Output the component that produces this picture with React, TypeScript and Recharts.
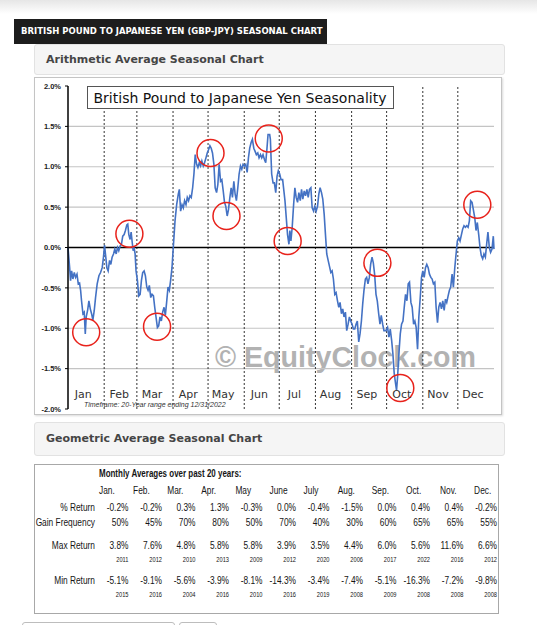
import React from 'react';
import { LineChart, Line, XAxis, YAxis, ReferenceLine, ReferenceDot } from 'recharts';

// Average seasonal path of GBP/JPY, day of year vs cumulative % change
const dayOfYear = [
  0.0, 1.4, 2.2, 3.1, 4.2, 5.4, 6.5, 7.7, 8.8, 9.9, 10.8, 11.6, 12.8, 13.9, 14.8, 15.6, 16.8, 17.9, 19.1, 20.2,
  21.3, 22.5, 23.6, 25.0, 26.5, 27.9, 29.3, 30.4, 31.3, 32.1, 33.3, 34.4, 35.6, 36.7, 37.8, 39.0, 40.1, 41.3, 42.4, 43.5,
  44.7, 45.8, 46.9, 48.1, 49.2, 50.4, 51.2, 52.1, 53.2, 54.1, 54.9, 55.8, 56.6, 57.5, 58.3, 59.5, 60.6, 61.8, 62.9, 64.0,
  65.2, 66.3, 67.5, 68.6, 69.7, 70.9, 72.0, 73.2, 74.3, 75.4, 76.6, 77.7, 78.8, 80.0, 81.1, 82.3, 83.4, 84.5, 85.7, 86.8,
  87.9, 89.1, 90.2, 91.7, 93.1, 94.5, 95.4, 96.5, 97.7, 98.8, 99.9, 101.1, 102.2, 103.3, 104.5, 105.6, 106.8, 107.9, 109.0, 110.2,
  111.3, 112.5, 113.6, 114.7, 115.9, 117.0, 118.2, 119.3, 120.4, 121.6, 122.7, 123.8, 125.0, 126.1, 127.3, 128.4, 129.5, 130.7, 131.8, 133.0,
  134.1, 135.2, 136.4, 137.5, 138.7, 139.8, 140.9, 142.1, 143.2, 144.3, 145.5, 146.6, 147.8, 148.9, 150.0, 151.2, 152.3, 153.5, 154.6, 155.7,
  156.9, 158.0, 159.2, 160.3, 161.4, 162.6, 163.7, 164.9, 166.0, 167.1, 168.3, 169.4, 170.5, 171.4, 172.8, 173.4, 174.5, 175.7, 176.8, 178.0,
  179.1, 180.2, 181.4, 182.5, 183.9, 185.9, 187.0, 188.1, 189.3, 190.1, 191.0, 192.1, 193.3, 194.4, 195.5, 196.7, 197.8, 199.0, 200.1, 201.2,
  202.4, 203.5, 204.7, 205.8, 206.9, 208.1, 209.2, 210.4, 211.5, 212.6, 213.8, 214.9, 216.0, 217.2, 218.3, 219.5, 220.6, 221.7, 222.9, 224.0,
  225.2, 226.3, 227.4, 228.6, 229.7, 230.9, 232.0, 233.1, 234.3, 235.4, 236.5, 237.7, 238.8, 240.0, 241.1, 242.2, 243.4, 244.5, 245.7, 246.8,
  247.9, 249.1, 250.2, 251.4, 252.5, 253.6, 254.8, 255.9, 257.0, 258.2, 259.3, 260.5, 261.6, 262.7, 263.9, 265.0, 266.2, 267.3, 268.4, 269.6,
  270.7, 272.4, 273.8, 275.0, 276.1, 277.3, 278.4, 279.5, 280.7, 281.5, 282.4, 283.5, 284.7, 285.8, 287.0, 288.1, 289.2, 290.4, 291.5, 292.6,
  293.8, 294.9, 296.1, 297.2, 298.3, 299.5, 300.6, 301.8, 302.9, 304.0, 305.2, 306.3, 307.4, 308.6, 309.7, 310.9, 312.0, 313.1, 314.3, 315.4,
  316.6, 317.7, 318.8, 320.0, 321.1, 322.3, 323.4, 324.5, 325.7, 326.8, 327.9, 329.1, 330.2, 331.4, 332.5, 333.6, 334.8, 335.9, 337.1, 338.2,
  339.3, 340.5, 341.6, 342.8, 343.9, 345.0, 346.2, 347.3, 348.5, 349.6, 350.7, 351.9, 353.0, 354.1, 355.3, 356.4, 357.6, 358.7, 359.8, 361.0,
  362.1, 363.3, 364.4, 365.0,
];

const avgReturn = [
  0.00, -0.25, -0.41, -0.29, -0.39, -0.31, -0.37, -0.33, -0.45, -0.44, -0.53, -0.66, -0.82, -0.80, -1.07, -0.86, -0.78, -0.66, -0.76, -0.82,
  -0.90, -0.78, -0.62, -0.45, -0.35, -0.31, -0.25, -0.12, 0.03, -0.08, -0.25, -0.29, -0.16, -0.21, -0.12, -0.08, -0.02, -0.08, 0.00, -0.04,
  0.02, 0.04, 0.14, 0.16, 0.21, 0.28, 0.29, 0.16, 0.10, 0.19, 0.08, -0.04, 0.00, -0.08, -0.29, -0.41, -0.60, -0.58, -0.41, -0.31,
  -0.29, -0.35, -0.49, -0.53, -0.47, -0.62, -0.58, -0.60, -0.74, -0.86, -0.99, -0.97, -0.86, -0.91, -0.80, -0.74, -0.84, -0.68, -0.49, -0.53,
  -0.41, -0.25, 0.00, 0.33, 0.53, 0.66, 0.72, 0.45, 0.53, 0.49, 0.58, 0.53, 0.62, 0.58, 0.64, 0.62, 0.74, 0.91, 1.15, 1.03,
  0.99, 1.05, 1.01, 1.07, 1.01, 1.05, 1.11, 1.17, 1.21, 1.26, 1.23, 1.17, 1.03, 0.74, 0.68, 0.78, 1.03, 0.82, 0.84, 0.70,
  0.56, 0.51, 0.39, 0.47, 0.62, 0.74, 0.62, 0.82, 0.66, 0.58, 0.74, 0.91, 1.01, 0.97, 1.03, 1.01, 1.03, 0.93, 1.11, 1.23,
  1.30, 1.34, 1.23, 1.19, 1.15, 1.17, 1.11, 1.15, 1.11, 1.15, 1.09, 1.05, 1.23, 1.40, 1.40, 1.34, 0.91, 0.80, 0.80, 0.68,
  0.88, 0.95, 0.91, 0.84, 0.84, 0.58, 0.37, 0.16, 0.04, 0.21, 0.08, 0.25, 0.53, 0.74, 0.62, 0.56, 0.68, 0.58, 0.72, 0.60,
  0.70, 0.64, 0.72, 0.62, 0.72, 0.74, 0.49, 0.45, 0.51, 0.45, 0.51, 0.66, 0.74, 0.68, 0.60, 0.41, 0.16, -0.08, -0.16, -0.23,
  -0.31, -0.29, -0.39, -0.58, -0.56, -0.66, -0.74, -0.68, -0.82, -0.76, -0.86, -0.80, -1.03, -0.95, -0.86, -0.91, -0.95, -1.01, -1.01, -0.95,
  -0.91, -1.17, -1.07, -0.91, -0.70, -0.53, -0.39, -0.37, -0.45, -0.37, -0.21, -0.12, -0.19, -0.33, -0.58, -0.66, -0.82, -0.95, -0.84, -0.95,
  -1.03, -1.03, -0.99, -1.11, -1.01, -1.15, -1.32, -1.56, -1.69, -1.77, -1.60, -1.32, -1.07, -0.95, -0.91, -0.74, -0.58, -0.66, -0.45, -0.43,
  -0.68, -0.74, -0.95, -0.91, -0.99, -1.26, -0.86, -0.62, -0.37, -0.29, -0.37, -0.25, -0.21, -0.25, -0.33, -0.37, -0.39, -0.45, -0.43, -0.74,
  -0.93, -0.74, -0.68, -0.76, -0.66, -0.78, -0.64, -0.68, -0.60, -0.53, -0.49, -0.33, -0.49, -0.25, -0.08, 0.08, 0.12, 0.08, 0.16, 0.23,
  0.27, 0.25, 0.27, 0.25, 0.33, 0.58, 0.56, 0.47, 0.37, 0.21, 0.31, 0.16, 0.00, -0.10, -0.14, -0.08, -0.12, 0.04, 0.19, 0.00,
  -0.06, -0.02, 0.14, -0.02,
];

const monthNames = ['Jan', 'Feb', 'Mar', 'Apr', 'May', 'Jun', 'Jul', 'Aug', 'Sep', 'Oct', 'Nov', 'Dec'];
const monthStartDay = [0, 31, 59, 90, 120, 151, 181, 212, 243, 273, 304, 334];
const yTicks = [-2, -1.5, -1, -0.5, 0, 0.5, 1, 1.5, 2];
const gridValues = [-1.5, -1, -0.5, 0.5, 1, 1.5];

// Turning points ringed on the chart
const highlightDay = [15.6, 52.6, 76.3, 122.1, 135.8, 172.0, 188.2, 265.1, 284.7, 350.7];
const highlightValue = [-1.05, 0.17, -0.98, 1.17, 0.39, 1.35, 0.08, -0.19, -1.74, 0.53];

// Monthly statistics table
const tableMonths = ['Jan.', 'Feb.', 'Mar.', 'Apr.', 'May', 'June', 'July', 'Aug.', 'Sep.', 'Oct.', 'Nov.', 'Dec.'];
const pctReturn = [-0.2, -0.2, 0.3, 1.3, -0.3, 0.0, -0.4, -1.5, 0.0, 0.4, 0.4, -0.2];
const gainFrequency = [50, 45, 70, 80, 50, 70, 40, 30, 60, 65, 65, 55];
const maxReturn = [3.8, 7.6, 4.8, 5.8, 5.8, 3.9, 3.5, 4.4, 6.0, 5.6, 11.6, 6.6];
const maxYear = [2011, 2012, 2010, 2013, 2009, 2012, 2020, 2006, 2017, 2022, 2016, 2012];
const minReturn = [-5.1, -9.1, -5.6, -3.9, -8.1, -14.3, -3.4, -7.4, -5.1, -16.3, -7.2, -9.8];
const minYear = [2015, 2016, 2004, 2016, 2010, 2016, 2019, 2008, 2009, 2008, 2008, 2008];

const seriesData = dayOfYear.map((d, i) => ({ day: d, ret: avgReturn[i] }));
const monthLabelDay = monthStartDay.map((d) => d + 13);

const SANS = 'DejaVu Sans, Verdana, sans-serif';
const ARIAL = 'Liberation Sans, Arial, sans-serif';

const MonthTick = (props: any) => {
  const { x, y, payload } = props;
  const idx = monthLabelDay.indexOf(payload.value);
  return (
    <text x={x} y={y - 11.5} textAnchor="middle" fontSize={11} fontFamily={SANS} fill="#333">
      {monthNames[idx]}
    </text>
  );
};

const pct = (v: number) => `${v.toFixed(1)}%`;

const Narrow = ({ x, y, anchor = 'end', size = 11, bold = false, children }: any) => (
  <text
    transform={`translate(${x} ${y}) scale(0.76 1)`}
    textAnchor={anchor}
    fontSize={size}
    fontWeight={bold ? 700 : 400}
    fontFamily={ARIAL}
    fill="#151515"
  >
    {children}
  </text>
);

export default function App() {
  const colRight = (i: number) => 128.5 + i * 33.5;
  const colLeft = (i: number) => 99 + i * 34.1;
  const rows: { label: string; y: number; values: string[] }[] = [
    { label: '% Return', y: 510.7, values: pctReturn.map(pct) },
    { label: 'Gain Frequency', y: 526, values: gainFrequency.map((v) => `${v}%`) },
    { label: 'Max Return', y: 549.3, values: maxReturn.map(pct) },
    { label: 'Min Return', y: 584, values: minReturn.map(pct) },
  ];

  return (
    <div style={{ position: 'absolute', left: 0, top: 0, width: 537, height: 625, background: '#fff', overflow: 'hidden' }}>
      <div style={{ position: 'absolute', left: 0, top: 0, width: 537, height: 14, background: 'linear-gradient(#e6e6e6, #ffffff)' }} />

      <div style={{ position: 'absolute', left: 14, top: 19, width: 313, height: 25, background: '#1d1d1d', color: '#fff', fontFamily: SANS, fontWeight: 700, fontSize: 8.5, lineHeight: '25px', paddingLeft: 7, boxSizing: 'border-box', whiteSpace: 'nowrap' }}>
        BRITISH POUND TO JAPANESE YEN (GBP-JPY) SEASONAL CHART
      </div>

      <div style={{ position: 'absolute', left: 34, top: 44, width: 471, height: 31, background: '#f5f5f5', border: '1px solid #e2e2e2', borderRadius: 3, boxSizing: 'border-box', fontFamily: SANS, fontWeight: 700, fontSize: 11, color: '#454545', lineHeight: '29px', paddingLeft: 11 }}>
        Arithmetic Average Seasonal Chart
      </div>

      <div style={{ position: 'absolute', left: 34, top: 77, width: 468, height: 338, border: '1px solid #c4c4c4', boxSizing: 'border-box', background: '#fff', boxShadow: '1px 1px 2px rgba(0,0,0,0.15)' }} />

      <svg style={{ position: 'absolute', left: 0, top: 0 }} width={537} height={625}>
        <text x={215} y={367} fontFamily={ARIAL} fontWeight={700} fontSize={28.6} fill="#b2b2b2">
          © EquityClock.com
        </text>
      </svg>

      <div style={{ position: 'absolute', left: 34, top: 77 }}>
        <LineChart width={468} height={338} data={seriesData} margin={{ top: 9, right: 8, bottom: 5, left: 0 }}>
          <XAxis
            type="number"
            dataKey="day"
            domain={[0, 365]}
            ticks={monthLabelDay}
            interval={0}
            height={1}
            tickSize={0}
            tickMargin={0}
            axisLine={false}
            tickLine={false}
            tick={<MonthTick />}
          />
          <YAxis
            type="number"
            domain={[-2, 2]}
            ticks={yTicks}
            interval={0}
            width={34}
            tickSize={3}
            tickMargin={4}
            tickFormatter={pct}
            axisLine={{ stroke: '#000', strokeWidth: 1.5 }}
            tickLine={{ stroke: '#000' }}
            tick={{ fontSize: 7.5, fontWeight: 700, fill: '#222', fontFamily: ARIAL }}
          />
          {gridValues.map((v) => (
            <ReferenceLine key={`g${v}`} y={v} stroke="#c4c4c4" strokeWidth={1.2} />
          ))}
          {monthStartDay.slice(1).map((d) => (
            <ReferenceLine key={`m${d}`} x={d} stroke="#333" strokeWidth={1} strokeDasharray="2 2" />
          ))}
          <ReferenceLine y={0} stroke="#000" strokeWidth={1.6} />
          <Line type="linear" dataKey="ret" stroke="#4472c4" strokeWidth={1.6} dot={false} isAnimationActive={false} />
          {highlightDay.map((d, i) => (
            <ReferenceDot key={`h${i}`} x={d} y={highlightValue[i]} r={13.5} fill="none" stroke="#e8221b" strokeWidth={1.5} />
          ))}
        </LineChart>
      </div>

      <svg style={{ position: 'absolute', left: 0, top: 0, pointerEvents: 'none' }} width={537} height={625}>
        <rect x={87.5} y={86.5} width={306} height={22} fill="#fff" stroke="#555" strokeWidth={1} />
        <text x={93.5} y={102.5} fontFamily={SANS} fontSize={14} fill="#111">
          British Pound to Japanese Yen Seasonality
        </text>
        <text x={84} y={406.8} fontFamily={ARIAL} fontStyle="italic" fontSize={7} fill="#333">
          Timeframe: 20-Year range ending 12/31/2022
        </text>
      </svg>

      <div style={{ position: 'absolute', left: 34, top: 422, width: 471, height: 34, background: '#f5f5f5', border: '1px solid #e2e2e2', borderRadius: 3, boxSizing: 'border-box', fontFamily: SANS, fontWeight: 700, fontSize: 11, color: '#454545', lineHeight: '32px', paddingLeft: 11 }}>
        Geometric Average Seasonal Chart
      </div>

      <div style={{ position: 'absolute', left: 34, top: 464, width: 465, height: 150, border: '1px solid #a8a8a8', boxSizing: 'border-box', background: '#fff' }} />

      <svg style={{ position: 'absolute', left: 0, top: 0 }} width={537} height={625}>
        <Narrow x={99} y={477.3} anchor="start" bold size={10.5}>
          Monthly Averages over past 20 years:
        </Narrow>
        {tableMonths.map((m, i) => (
          <Narrow key={m} x={colLeft(i)} y={494.3} anchor="start">
            {m}
          </Narrow>
        ))}
        {rows.map((r) => (
          <g key={r.label}>
            <Narrow x={95} y={r.y}>{r.label}</Narrow>
            {r.values.map((v, i) => (
              <Narrow key={i} x={colRight(i)} y={r.y}>
                {v}
              </Narrow>
            ))}
          </g>
        ))}
        {maxYear.map((yr, i) => (
          <Narrow key={`mx${i}`} x={colRight(i)} y={561.7} size={7.5}>
            {yr}
          </Narrow>
        ))}
        {minYear.map((yr, i) => (
          <Narrow key={`mn${i}`} x={colRight(i)} y={597.3} size={7.5}>
            {yr}
          </Narrow>
        ))}
      </svg>

      <div style={{ position: 'absolute', left: 22, top: 622, width: 153, height: 20, border: '1px solid #bdbdbd', borderRadius: 3, boxSizing: 'border-box' }} />
      <div style={{ position: 'absolute', left: 179, top: 622, width: 38, height: 20, border: '1px solid #bdbdbd', borderRadius: 3, boxSizing: 'border-box' }} />
    </div>
  );
}
